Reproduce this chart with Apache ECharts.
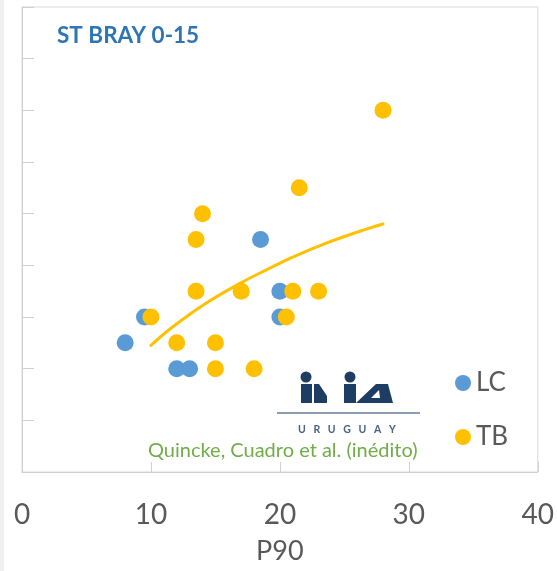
<!DOCTYPE html>
<html lang="es">
<head>
    <meta charset="UTF-8">
    <title>ST BRAY 0-15</title>
    <style>
        html, body { margin: 0; padding: 0; background: #fff; }
        #chart { width: 557px; height: 571px; }
    </style>
</head>
<body>
<div id="chart"></div>

<script type="text/javascript" src="https://cdn.jsdelivr.net/npm/echarts@6/dist/echarts.min.js"></script>
<script>
    // valores
    var lcX = [8, 9.5, 12, 13, 18.5, 20, 20];
    var lcY = [25, 30, 20, 20, 45, 35, 30];
    var tbX = [10, 12, 13.5, 14, 13.5, 15, 15, 17, 18, 21, 20.5, 21.5, 23, 28];
    var tbY = [30, 25, 45, 50, 35, 25, 20, 35, 20, 35, 30, 55, 35, 70];
    // linea de tendencia
    var trendX = [10, 11.7, 14.3, 16.9, 19.1, 21, 23.6, 26.2, 28];
    var trendY = [24.5, 28.1, 32.7, 36.5, 39.3, 41.6, 44.3, 46.6, 48.0];
    var xTicks = [0, 10, 20, 30, 40];

    function pairs(xs, ys) {
        var out = [];
        for (var i = 0; i < xs.length; i++) out.push([xs[i], ys[i]]);
        return out;
    }

    var navy = '#1d3d63';
    var font = 'Lato, "Open Sans", sans-serif';
    var chart = echarts.init(document.getElementById('chart'));

    var option = {
        backgroundColor: '#ffffff',
        animation: false,
        title: {
            text: 'ST BRAY 0-15',
            left: 52,
            top: 19,
            textStyle: { color: '#2e75b6', fontSize: 22.5, fontWeight: 'bold', fontFamily: font }
        },
        legend: {
            data: ['LC', 'TB'],
            orient: 'vertical',
            left: 450,
            top: 365,
            itemWidth: 16,
            itemHeight: 16,
            itemGap: 28,
            icon: 'circle',
            textStyle: { color: '#595959', fontSize: 26, fontFamily: font, padding: [0, 0, 0, 0] }
        },
        grid: {
            left: 22,
            right: 19,
            top: 7,
            bottom: 99,
            show: true,
            borderColor: '#d9d9d9',
            borderWidth: 1
        },
        xAxis: {
            type: 'value',
            min: xTicks[0],
            max: xTicks[xTicks.length - 1],
            interval: 10,
            name: 'P90',
            nameLocation: 'middle',
            nameGap: 66,
            nameTextStyle: { color: '#595959', fontSize: 27, fontFamily: font },
            axisLine: { lineStyle: { color: '#d0d0d0' } },
            axisTick: { inside: true, length: 10, lineStyle: { color: '#d0d0d0' } },
            axisLabel: { color: '#595959', fontSize: 28, fontFamily: font, margin: 29 },
            splitLine: { show: false }
        },
        yAxis: {
            type: 'value',
            min: 0,
            max: 90,
            interval: 10,
            axisLine: { show: true, lineStyle: { color: '#d0d0d0' } },
            axisTick: { show: true, inside: true, length: 12, lineStyle: { color: '#d0d0d0' } },
            axisLabel: { show: false },
            splitLine: { show: false }
        },
        series: [
            {
                name: 'LC',
                type: 'scatter',
                symbolSize: 17,
                itemStyle: { color: '#5b9bd5', opacity: 1 },
                data: pairs(lcX, lcY)
            },
            {
                name: 'TB',
                type: 'scatter',
                symbolSize: 17,
                itemStyle: { color: '#ffc000', opacity: 1 },
                data: pairs(tbX, tbY)
            },
            {
                name: 'tendencia',
                type: 'line',
                smooth: 0.4,
                showSymbol: false,
                symbol: 'none',
                lineStyle: { color: '#ffc000', width: 3, cap: 'round' },
                data: pairs(trendX, trendY),
                z: 3
            }
        ],
        graphic: [
            { type: 'rect', left: 0, top: 0, shape: { width: 4, height: 571 }, style: { fill: '#f0f0f0' }, silent: true },
            {
                type: 'text', left: 148, top: 441,
                style: { text: 'Quincke, Cuadro et al. (inédito)', fill: '#70ad47', font: '20px ' + font }
            },
            // logo INIA
            { type: 'circle', shape: { cx: 306, cy: 377, r: 5.5 }, style: { fill: navy } },
            { type: 'circle', shape: { cx: 350, cy: 377, r: 5.5 }, style: { fill: navy } },
            { type: 'rect', shape: { x: 301, y: 384, width: 11, height: 19 }, style: { fill: navy } },
            { type: 'polygon', shape: { points: [[314, 384], [319, 384], [327, 396], [327, 403], [314, 403]] }, style: { fill: navy } },
            { type: 'rect', shape: { x: 344, y: 384, width: 12, height: 19 }, style: { fill: navy } },
            { type: 'polygon', shape: { points: [[356, 403], [376, 384], [388, 384], [393, 403]] }, style: { fill: navy } },
            { type: 'polygon', shape: { points: [[371, 398], [379, 390], [380, 398]] }, style: { fill: '#ffffff' } },
            { type: 'line', shape: { x1: 277, y1: 413, x2: 420, y2: 413 }, style: { stroke: '#8a9db2', lineWidth: 2 } },
            {
                type: 'text', left: 298, top: 424,
                style: { text: 'U   R   U   G   U   A   Y', fill: '#4a6280', font: 'bold 10.5px ' + font }
            }
        ]
    };

    chart.setOption(option);
</script>
</body>
</html>
